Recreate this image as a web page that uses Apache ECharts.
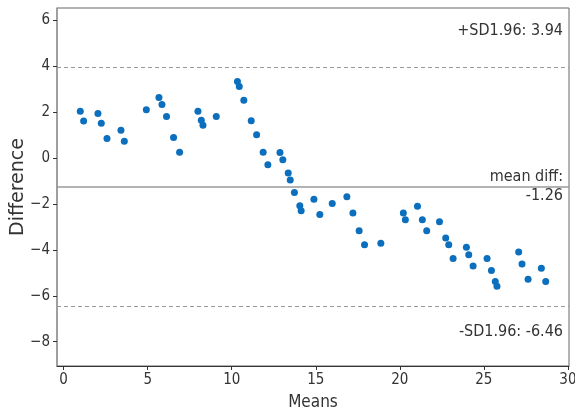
<!DOCTYPE html>
<html>
<head>
<meta charset="utf-8">
<script src="https://cdn.jsdelivr.net/npm/echarts@6/dist/echarts.min.js"></script>
<style>
  html, body { margin: 0; padding: 0; background: #fff; }
  #chart { width: 575px; height: 412px; }
</style>
</head>
<body>
<div id="chart"></div>
<script>
// Bland-Altman agreement plot: mean of two measurements vs. their difference
const means = [0.99, 1.19, 2.04, 2.24, 2.58, 3.41, 3.61, 4.92, 5.67, 5.85, 6.12, 6.54, 6.90, 7.99, 8.19, 8.29, 9.08,
  10.34, 10.45, 10.72, 11.16, 11.48, 11.87, 12.15, 12.87, 13.04, 13.36, 13.48,
  13.73, 14.05, 14.13, 14.89, 15.24, 15.98, 16.85, 17.21, 17.58, 17.90, 18.87, 20.21, 20.33, 21.05, 21.34, 21.60, 22.36,
  22.73, 22.91, 23.17, 23.96, 24.10, 24.36, 25.19, 25.45, 25.68, 25.78, 27.07, 27.27, 27.63, 28.42, 28.68];
const diffs = [2.04, 1.62, 1.94, 1.52, 0.85, 1.21, 0.73, 2.11, 2.64, 2.34, 1.81, 0.90, 0.25, 2.04, 1.65, 1.43, 1.81,
  3.34, 3.12, 2.52, 1.63, 1.02, 0.25, -0.29, 0.24, -0.07, -0.65, -0.96,
  -1.50, -2.08, -2.30, -1.79, -2.46, -1.98, -1.69, -2.39, -3.17, -3.78, -3.71, -2.39, -2.69, -2.10, -2.69, -3.17, -2.77,
  -3.48, -3.78, -4.38, -3.89, -4.21, -4.70, -4.38, -4.90, -5.38, -5.59, -4.09, -4.61, -5.28, -4.80, -5.38];

const meanDiff = -1.26;
const upperLimit = 3.94;   // mean + 1.96 SD
const lowerLimit = -6.46;  // mean - 1.96 SD

const xTicks = [0, 5, 10, 15, 20, 25, 30];
const yTicks = [-8, -6, -4, -2, 0, 2, 4, 6];

// y range: mean ± 1.5 × (1.96 SD); x range: data span plus 5% margins
const halfSpan = 1.5 * (upperLimit - meanDiff);
const yMin = meanDiff - halfSpan;
const yMax = meanDiff + halfSpan;
const xLo = Math.min(...means), xHi = Math.max(...means);
const xPad = 0.05 * (xHi - xLo);

const points = means.map((m, i) => [m, diffs[i]]);
const minus = v => String(v).replace('-', '\u2212');

const FONT = '"DejaVu Sans Condensed", "DejaVu Sans", sans-serif';
const TEXT = '#333';

const chart = echarts.init(document.getElementById('chart'), null, { renderer: 'canvas' });

chart.setOption({
  animation: false,
  backgroundColor: '#fff',
  grid: {
    left: 57, right: 6, top: 8, bottom: 46,
    outerBoundsMode: 'none', containLabel: false,
    show: true, borderColor: '#666', borderWidth: 1
  },
  xAxis: {
    type: 'value', min: xLo - xPad, max: xHi + xPad,
    name: 'Means', nameLocation: 'middle', nameGap: 28, nameMoveOverlap: false,
    nameTextStyle: { fontFamily: FONT, fontSize: 17, color: TEXT },
    axisLine: { show: true, onZero: false, lineStyle: { color: '#333', width: 1 } },
    axisTick: { show: true, inside: false, length: 4, customValues: xTicks, lineStyle: { color: '#333' } },
    axisLabel: { customValues: xTicks, margin: 7, fontFamily: FONT, fontSize: 15, color: TEXT, formatter: minus },
    splitLine: { show: false }
  },
  yAxis: {
    type: 'value', min: yMin, max: yMax,
    name: 'Difference', nameLocation: 'middle', nameGap: 29, nameMoveOverlap: false,
    nameTextStyle: { fontFamily: '"DejaVu Sans", sans-serif', fontSize: 19, color: TEXT },
    axisLine: { show: true, onZero: false, lineStyle: { color: '#999', width: 1.5 } },
    axisTick: { show: true, inside: false, length: 4, customValues: yTicks, lineStyle: { color: '#333' } },
    axisLabel: { customValues: yTicks, margin: 7, fontFamily: FONT, fontSize: 15, color: TEXT, formatter: minus },
    splitLine: { show: false }
  },
  series: [{
    type: 'scatter',
    data: points,
    symbolSize: 7,
    itemStyle: { color: '#0b6fbd', opacity: 1 },
    markLine: {
      silent: true,
      symbol: 'none',
      label: { show: false },
      data: [
        { yAxis: meanDiff, lineStyle: { color: '#9a9a9a', width: 1.6, type: 'solid' } },
        { yAxis: upperLimit, lineStyle: { color: '#999', width: 1, type: [4, 3] } },
        { yAxis: lowerLimit, lineStyle: { color: '#999', width: 1, type: [4, 3] } }
      ]
    }
  }]
});

// limit annotations, right-aligned inside the plot area
const annot = (text, y) => ({
  type: 'text', x: 563, y: y,
  style: { text: text, fontFamily: FONT, fontSize: 16, fill: TEXT, textAlign: 'right', textVerticalAlign: 'middle' }
});
chart.setOption({
  graphic: [
    annot('+SD1.96: ' + upperLimit.toFixed(2), 31),
    annot('mean diff:', 177),
    annot(meanDiff.toFixed(2), 195.5),
    annot('-SD1.96: ' + lowerLimit.toFixed(2), 332)
  ]
});
</script>
</body>
</html>
